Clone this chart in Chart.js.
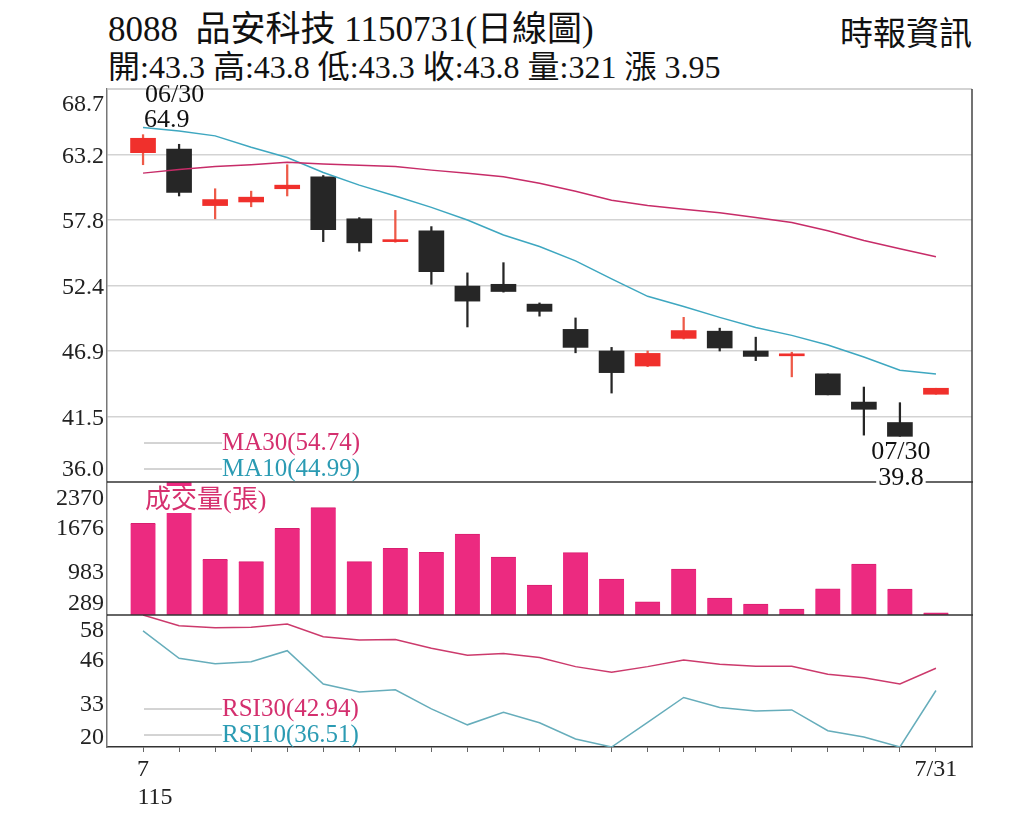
<!DOCTYPE html>
<html><head><meta charset="utf-8">
<script src="https://cdn.jsdelivr.net/npm/chart.js@4.4.1/dist/chart.umd.min.js"></script>
<style>
html,body{margin:0;padding:0;background:#fff;width:1024px;height:819px;overflow:hidden;}
body{position:relative;font-family:"Liberation Serif","Noto Sans CJK TC",serif;color:#111;}
.t{position:absolute;white-space:pre;line-height:1;}
canvas{position:absolute;left:0;}
</style></head><body>
<div class="t" id="title" style="left:108px;top:12px;font-size:35px;"></div>
<div class="t" id="quote" style="left:108px;top:51px;font-size:32px;"></div>
<div class="t" id="src" style="right:52px;top:18px;font-size:33px;"></div>
<canvas id="cRsi" width="1024" height="208" style="top:611px"></canvas>
<canvas id="cVol" width="1024" height="145" style="top:476px"></canvas>
<canvas id="cPrice" width="1024" height="412" style="top:80px"></canvas>
<script>
// ---------- data ----------
const stockCode = '8088', stockName = '品安科技', chartDate = '1150731', chartKind = '日線圖', sourceName = '時報資訊';
const changeValue = 3.95;
const opens  = [63.4, 63.7, 59.0, 59.3, 60.4, 61.4, 57.9, 56.0, 56.9, 52.3, 52.45, 50.8, 48.7, 46.9, 45.65, 47.95, 48.55, 46.9, 46.5, 45.0, 42.65, 40.95, 43.3];
const highs  = [64.9, 64.1, 60.4, 60.2, 62.4, 61.5, 58.0, 58.6, 57.25, 53.4, 54.25, 50.9, 49.65, 47.2, 46.9, 49.7, 48.8, 48.05, 46.8, 45.0, 43.9, 42.6, 43.8];
const lows   = [62.4, 59.8, 57.9, 58.9, 59.8, 56.0, 55.2, 55.95, 52.45, 48.9, 51.8, 49.8, 46.75, 43.4, 45.6, 47.9, 46.9, 46.1, 44.75, 43.25, 39.9, 39.8, 43.3];
const closes = [64.6, 60.1, 59.5, 59.7, 60.7, 57.0, 55.9, 56.05, 53.5, 51.05, 51.85, 50.2, 47.2, 45.1, 46.7, 48.6, 47.15, 46.45, 46.55, 43.25, 42.05, 39.8, 43.8];
const ma10 = [65.5, 65.2, 64.8, 63.85, 63.0, 61.75, 60.7, 59.8, 58.85, 57.8, 56.55, 55.6, 54.4, 52.9, 51.45, 50.6, 49.7, 48.85, 48.2, 47.4, 46.4, 45.3, 44.99];
const ma30 = [61.7, 62.0, 62.25, 62.4, 62.6, 62.45, 62.35, 62.25, 61.95, 61.7, 61.4, 60.85, 60.2, 59.45, 59.0, 58.7, 58.4, 58.0, 57.6, 56.9, 56.1, 55.4, 54.74];
const volumes = [1724, 2370, 1160, 1123, 1645, 1968, 1123, 1332, 1270, 1556, 1196, 758, 1264, 852, 497, 1009, 555, 461, 383, 700, 1087, 696, 321];
const rsi30 = [58.3, 55.2, 54.6, 54.8, 55.7, 52.0, 51.1, 51.2, 48.7, 46.7, 47.2, 46.0, 43.4, 41.8, 43.4, 45.3, 44.1, 43.5, 43.5, 41.2, 40.2, 38.4, 42.94];
const rsi10 = [53.7, 45.8, 44.2, 44.8, 48.0, 38.4, 36.1, 36.7, 31.2, 26.6, 30.2, 27.2, 22.5, 20.2, 27.3, 34.5, 31.6, 30.6, 30.9, 24.9, 23.1, 20.2, 36.51];
const priceTickLabels = ['36.0', '41.5', '46.9', '52.4', '57.8', '63.2', '68.7'];
const priceMin = 36.0, priceMax = 68.7;
const volTickLabels = ['289', '983', '1676', '2370'];
const volMin = 289, volMax = 2370;
const rsiTickLabels = ['20', '33', '46', '58'];
const rsiMin = 20.2, rsiMax = 58.3;
const xTickLabels = [['7', '    115'], '', '', '', '', '', '', '', '', '', '', '', '', '', '', '', '', '', '', '', '', '', '7/31'];
const highMark = {index: 0, date: '06/30', value: 64.9};
const lowMark = {index: 21, date: '07/30', value: 39.8};

// ---------- styles ----------
const FONT = '"Liberation Serif", "Noto Sans CJK TC", serif';
const RED = '#f0302c', RED_WICK = '#ee5a48', BLACK = '#262626';
const MA30_C = '#c72c68', MA10_C = '#3ea7c0', VOL_C = '#ec2a80';
const RSI30_C = '#cc3a6c', RSI10_C = '#66adbb';
const TXT_PINK = '#d42f6e', TXT_TEAL = '#2b9bb3';
const AXIS_W = 107, RIGHT_PAD = 1024 - 972;

const N = opens.length;
const idx = opens.map((_, i) => i);
const last = N - 1;

document.getElementById('title').textContent = `${stockCode}  ${stockName} ${chartDate}(${chartKind})`;
document.getElementById('quote').textContent = `開:${opens[last]} 高:${highs[last]} 低:${lows[last]} 收:${closes[last]} 量:${volumes[last]} 漲 ${changeValue}`;
document.getElementById('src').textContent = sourceName;

const up = idx.map(i => closes[i] >= opens[i]);
const bodyColor = idx.map(i => up[i] ? RED : BLACK);
const wickColor = idx.map(i => up[i] ? RED_WICK : BLACK);

function yAxis(min, max, labels, shiftTop, shiftBottom, withGrid) {
  const n = labels.length;
  return {
    type: 'linear', min, max, position: 'left',
    afterFit(s) { s.width = AXIS_W; s.paddingTop = 0; s.paddingBottom = 0; },
    afterBuildTicks(s) {
      const step = (max - min) / (n - 1);
      const h = s.height > 0 ? s.height : 100;
      const u = (max - min) / h;
      s.ticks = labels.map((_, k) => ({value: k === 0 ? min + shiftBottom * u : (k === n - 1 ? max - shiftTop * u : min + k * step)}));
    },
    ticks: {callback: (v, k) => labels[k], font: {family: FONT, size: 24}, color: '#222', padding: 3, labelOffset: 2},
    grid: withGrid ? {color: c => (c.index === 0 || c.index === n - 1) ? 'rgba(0,0,0,0)' : '#d3d3d3', lineWidth: 1.5, drawTicks: false}
                   : {display: false, drawTicks: false},
    border: {display: true, color: '#777', width: 1.5}
  };
}
const xHidden = {type: 'linear', min: -1, max: N, offset: false, display: false};

const framePlugin = {
  id: 'frame',
  afterDatasetsDraw(chart, args, opts) {
    const {ctx, chartArea: a} = chart;
    ctx.save();
    if (opts.top) { ctx.strokeStyle = '#c4c4c4'; ctx.lineWidth = 1.5; ctx.beginPath(); ctx.moveTo(a.left, a.top); ctx.lineTo(a.right, a.top); ctx.stroke(); }
    ctx.strokeStyle = '#444'; ctx.lineWidth = 1.5;
    ctx.beginPath(); ctx.moveTo(a.right, a.top); ctx.lineTo(a.right, a.bottom); ctx.stroke();
    if (opts.bottom) { ctx.strokeStyle = '#333'; ctx.beginPath(); ctx.moveTo(a.left, a.bottom); ctx.lineTo(a.right + 1, a.bottom); ctx.stroke(); }
    ctx.restore();
  }
};

function legendLine(ctx, a, yOff, text, color) {
  const y = a.bottom - yOff;
  ctx.strokeStyle = '#a8a8a8'; ctx.lineWidth = 1;
  ctx.beginPath(); ctx.moveTo(144, y); ctx.lineTo(222, y); ctx.stroke();
  ctx.fillStyle = color; ctx.font = `25px ${FONT}`; ctx.textAlign = 'left'; ctx.textBaseline = 'middle';
  ctx.fillText(text, 222, y);
}

const priceText = {
  id: 'priceText',
  afterDraw(chart) {
    const {ctx, chartArea: a, scales} = chart;
    ctx.save();
    legendLine(ctx, a, 39, `MA30(${ma30[last].toFixed(2)})`, TXT_PINK);
    legendLine(ctx, a, 13, `MA10(${ma10[last].toFixed(2)})`, TXT_TEAL);
    ctx.font = `26px ${FONT}`; ctx.fillStyle = '#111';
    let x = scales.x.getPixelForValue(highMark.index), y = scales.y.getPixelForValue(highMark.value);
    ctx.textAlign = 'left'; ctx.textBaseline = 'bottom';
    ctx.fillText(String(highMark.value), x + 1, y - 1);
    ctx.fillText(highMark.date, x + 2, y - 26);
    x = scales.x.getPixelForValue(lowMark.index); y = scales.y.getPixelForValue(lowMark.value);
    ctx.textAlign = 'center'; ctx.textBaseline = 'top';
    ctx.fillText(lowMark.date, x + 1, y + 3);
    const t = String(lowMark.value); const w = ctx.measureText(t).width;
    ctx.fillStyle = '#fff'; ctx.fillRect(x + 1 - w / 2 - 2, y + 31, w + 4, 22);
    ctx.fillStyle = '#111'; ctx.fillText(t, x + 1, y + 29);
    ctx.restore();
  }
};

const volText = {
  id: 'volText',
  afterDraw(chart) {
    const {ctx, chartArea: a} = chart;
    ctx.save();
    ctx.font = `26px ${FONT}`; ctx.textAlign = 'left'; ctx.textBaseline = 'middle';
    const t = '成交量(張)'; const w = ctx.measureText(t).width;
    ctx.fillStyle = '#fff'; ctx.fillRect(143, a.top + 4, w + 4, 27);
    ctx.fillStyle = '#d6306e'; ctx.fillText(t, 145, a.top + 19);
    ctx.restore();
  }
};

const rsiText = {
  id: 'rsiText',
  afterDraw(chart) {
    const {ctx, chartArea: a} = chart;
    ctx.save();
    legendLine(ctx, a, 38, `RSI30(${rsi30[last].toFixed(2)})`, TXT_PINK);
    legendLine(ctx, a, 12, `RSI10(${rsi10[last].toFixed(2)})`, TXT_TEAL);
    ctx.restore();
  }
};

const common = {responsive: false, animation: false, devicePixelRatio: 1,
  plugins: {legend: {display: false}, tooltip: {enabled: false}}};

new Chart(document.getElementById('cPrice'), {
  type: 'bar',
  data: {datasets: [
    {type: 'line', data: idx.map(i => ({x: i, y: ma30[i]})), borderColor: MA30_C, borderWidth: 1.5, pointRadius: 0, tension: 0, order: 0},
    {type: 'line', data: idx.map(i => ({x: i, y: ma10[i]})), borderColor: MA10_C, borderWidth: 1.5, pointRadius: 0, tension: 0, order: 0},
    {type: 'bar', data: idx.map(i => ({x: i, y: [opens[i], closes[i]]})), backgroundColor: bodyColor, barThickness: 25, grouped: false, minBarLength: 2, order: 1},
    {type: 'bar', data: idx.map(i => ({x: i, y: [lows[i], highs[i]]})), backgroundColor: wickColor, barThickness: 1.6, grouped: false, order: 2}
  ]},
  options: Object.assign({}, common, {
    layout: {padding: {top: 9, bottom: 10, left: 0, right: RIGHT_PAD}},
    scales: {x: xHidden, y: yAxis(priceMin, priceMax, priceTickLabels, 14, 14, true)},
    plugins: Object.assign({}, common.plugins, {frame: {top: true, bottom: true}})
  }),
  plugins: [framePlugin, priceText]
});

new Chart(document.getElementById('cVol'), {
  type: 'bar',
  data: {datasets: [
    {data: idx.map(i => ({x: i, y: volumes[i]})), backgroundColor: VOL_C, borderColor: '#d81f6f', borderWidth: {top: 1, left: 0, right: 0, bottom: 0}, barThickness: 25}
  ]},
  options: Object.assign({}, common, {
    layout: {padding: {top: 6, bottom: 6, left: 0, right: RIGHT_PAD}},
    scales: {x: xHidden, y: yAxis(volMin, volMax, volTickLabels, 15, 13, false)},
    plugins: Object.assign({}, common.plugins, {frame: {top: false, bottom: true}})
  }),
  plugins: [framePlugin, volText]
});

new Chart(document.getElementById('cRsi'), {
  type: 'line',
  data: {datasets: [
    {data: idx.map(i => ({x: i, y: rsi30[i]})), borderColor: RSI30_C, borderWidth: 1.5, pointRadius: 0, tension: 0},
    {data: idx.map(i => ({x: i, y: rsi10[i]})), borderColor: RSI10_C, borderWidth: 1.5, pointRadius: 0, tension: 0}
  ]},
  options: Object.assign({}, common, {
    layout: {padding: {top: 4, bottom: 0, left: 0, right: RIGHT_PAD}},
    scales: {
      x: {type: 'linear', min: -1, max: N, offset: false, position: 'bottom',
        afterBuildTicks(s) { s.ticks = idx.map(i => ({value: i})); },
        afterFit(s) { s.height = 72; s.paddingLeft = 0; s.paddingRight = 0; },
        ticks: {autoSkip: false, maxRotation: 0, minRotation: 0, callback: (v, k) => xTickLabels[k], font: {family: FONT, size: 24, lineHeight: 1.15}, color: '#222', padding: 4},
        grid: {display: true, drawOnChartArea: false, drawTicks: true, tickLength: 5, tickColor: '#666', color: '#666'},
        border: {display: true, color: '#333', width: 1.5}},
      y: yAxis(rsiMin, rsiMax, rsiTickLabels, 14, 11, false)
    },
    plugins: Object.assign({}, common.plugins, {frame: {top: false, bottom: false}})
  }),
  plugins: [framePlugin, rsiText]
});
</script>
</body></html>
